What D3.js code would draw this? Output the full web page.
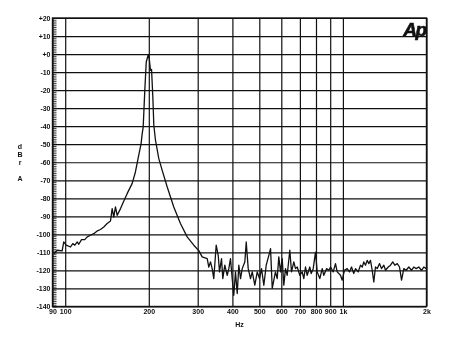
<!DOCTYPE html>
<html>
<head>
<meta charset="utf-8">
<script src="https://cdn.jsdelivr.net/npm/d3@7"></script>
<style>
    body { margin: 0; background: #fff; }
    svg { filter: grayscale(100%); }
    text { font-family: "Liberation Sans", Arial, sans-serif; font-weight: bold; fill: #111; }
</style>
</head>
<body>
<div id="chart"></div>
<script>

// measured spectrum, Hz
let freqs = [
    91, 93.6, 97.5, 98.8, 100.8, 104.5, 106.5, 108.3, 110.5, 111.9, 114.5, 117.6, 120, 123.3, 126.7,
    130.4, 134, 137.7, 141.6, 145.6, 147.6, 149.6, 151.7, 153.9, 158.2, 162.6, 167.6, 174.3, 179, 184,
    187.5, 189.4, 190.9, 193.5, 195.8, 199, 200.7, 202.8, 204.6, 206.8, 208.5, 211.4, 217.3, 223.5, 233,
    246, 260, 274.9, 290.4, 302.8, 311.3, 324.6, 328.9, 333.6, 338.3, 342.8, 349.7, 355.6, 359.4, 365.5,
    369.4, 375.6, 383.2, 388.3, 393.7, 399.3, 404.6, 410.4, 416.3, 421.9, 427.9, 434, 443.4, 448.6, 456.1,
    464.9, 471.5, 481.8, 491.5, 500.9, 509.3, 519.1, 529.5, 541.1, 548.8, 556.6, 571.6, 580, 587.7, 596.1,
    604.5, 612.6, 621.3, 630.1, 643.9, 653, 665.6, 675, 684.6, 699.5, 713.5, 723.1, 733.4, 743.8, 759.9,
    768.8, 781.7, 796.7, 808, 825.7, 842.3, 853.5, 873, 889.8, 902.4, 922.8, 940.4, 954, 980.2, 994.2,
    1013, 1036, 1056, 1074, 1094, 1110, 1135, 1157, 1174, 1189, 1206, 1223, 1240, 1257, 1275,
    1292, 1310, 1329, 1355, 1377, 1404, 1424, 1456, 1484, 1512, 1538, 1569, 1599, 1626, 1657,
    1690, 1727, 1766, 1800, 1836, 1876, 1919, 1956, 1995
];

// level, dBr A
let levels = [
    -110.6, -108.8, -109.2, -104.2, -106, -107, -105.1, -106, -104.2, -105.5, -102.9, -102.9, -101.4, -100.5, -99.6,
    -98.1, -97.3, -95.9, -94, -92.6, -85.7, -90.4, -84.8, -89.4, -85.7, -81.5, -77, -71.7, -65.4, -56,
    -50, -44, -40.5, -20, -4.4, -0.5, -2.3, -9, -8.5, -23.8, -39.5, -47.8, -58, -64.5, -73.7,
    -84.8, -94, -101.4, -106, -109, -112.5, -113.4, -118.1, -115.3, -119, -124.5, -106, -111.6, -120.8, -113.4,
    -124.5, -117.1, -122.7, -119, -113.4, -124.5, -133.8, -120.8, -132.8, -117.1, -124.5, -119, -115.3, -104.2, -119,
    -124.5, -120.8, -128.2, -120.8, -124.5, -119, -128.2, -117.1, -111.6, -107.9, -130, -120.8, -124.5, -112.5, -120.8,
    -113.4, -128.2, -119, -122.7, -108.8, -120.8, -115.3, -119, -118.1, -122.7, -120.8, -124.5, -118.1, -122.7, -118.1,
    -121.7, -119, -109.8, -120.8, -124.5, -119, -122.7, -119, -119.9, -118.1, -120.8, -116.2, -120.8, -122.7, -125.4,
    -119.9, -119, -120.8, -118.1, -121.7, -119, -120.8, -117.1, -118.1, -115.3, -117.1, -114.4, -116.2, -114.4, -119.9,
    -126.4, -118.1, -119, -116.2, -119, -117.1, -119.9, -118.1, -117.1, -115.3, -117.1, -116.2, -118.1, -125.4, -119,
    -119.9, -118.1, -119.9, -118.1, -119, -118.1, -119.9, -118.1, -119
];

let yTicks = [20, 10, 0, -10, -20, -30, -40, -50, -60, -70, -80, -90, -100, -110, -120, -130, -140];
let yTickLabels = ["+20", "+10", "+0", "-10", "-20", "-30", "-40", "-50", "-60", "-70", "-80", "-90", "-100", "-110", "-120", "-130", "-140"];
let xTicks = [90, 100, 200, 300, 400, 500, 600, 700, 800, 900, 1000, 2000];
let xTickLabels = ["90", "100", "200", "300", "400", "500", "600", "700", "800", "900", "1k", "2k"];
let yTitle = ["d", "B", "r", "", "A"];

let m = {top: 18, right: 23.5, bottom: 40.5, left: 52.5};
let w = 450;
let h = 347;
let iw = w - m.left - m.right;
let ih = h - m.top - m.bottom;

let svg = d3.select("#chart")
    .append("svg")
    .attr("width", w)
    .attr("height", h);

let g = svg.append("g")
    .attr("transform", `translate(${m.left},${m.top})`);

let x = d3.scaleLog().domain([90, 2000]).range([0, iw]);
let y = d3.scaleLinear().domain([-140, 20]).range([ih, 0]);

// horizontal grid + labels
let yAxis = g.append("g")
    .call(d3.axisLeft(y)
        .tickValues(yTicks)
        .tickSize(-iw)
        .tickPadding(2)
        .tickFormat((d, i) => yTickLabels[i]));

// vertical grid + labels
let xAxis = g.append("g")
    .attr("transform", `translate(0,${ih})`)
    .call(d3.axisBottom(x)
        .tickValues(xTicks)
        .tickSize(-ih)
        .tickPadding(3)
        .tickFormat((d, i) => xTickLabels[i]));

// dense 1 dB ticks on the left edge
let minor = g.append("g")
    .call(d3.axisLeft(y)
        .tickValues(d3.range(-140, 21, 1))
        .tickSize(-4)
        .tickFormat(""));

[yAxis, xAxis, minor].forEach((a) => a.select(".domain").remove());

g.selectAll(".tick line")
    .attr("stroke", "#111")
    .attr("stroke-width", 1.2);

minor.selectAll(".tick line").attr("stroke-width", 0.8);

g.selectAll(".tick text")
    .attr("font-size", 7)
    .attr("font-weight", "bold")
    .attr("fill", "#111");

g.append("rect")
    .attr("width", iw)
    .attr("height", ih)
    .attr("fill", "none")
    .attr("stroke", "#111")
    .attr("stroke-width", 1.4);

// the trace
let line = d3.line()
    .x((d, i) => x(freqs[i]))
    .y((d) => y(d));

g.append("path")
    .datum(levels)
    .attr("d", line)
    .attr("fill", "none")
    .attr("stroke", "#111")
    .attr("stroke-width", 1.3)
    .attr("stroke-linejoin", "round");

// axis titles
g.append("text")
    .attr("x", iw / 2)
    .attr("y", ih + 20)
    .attr("text-anchor", "middle")
    .attr("font-size", 7)
    .text("Hz");

svg.append("g")
    .selectAll("text")
    .data(yTitle)
    .enter()
    .append("text")
    .attr("x", 20)
    .attr("y", (d, i) => 148.5 + i * 8)
    .attr("text-anchor", "middle")
    .attr("font-size", 7)
    .text((d) => d);

// Ap logo
svg.append("text")
    .attr("x", m.left + iw - 1)
    .attr("y", 35.5)
    .attr("text-anchor", "end")
    .attr("font-size", 19)
    .attr("font-style", "italic")
    .attr("letter-spacing", -1.5)
    .attr("stroke", "#111")
    .attr("stroke-width", 0.6)
    .text("Ap");

</script>
</body>
</html>
